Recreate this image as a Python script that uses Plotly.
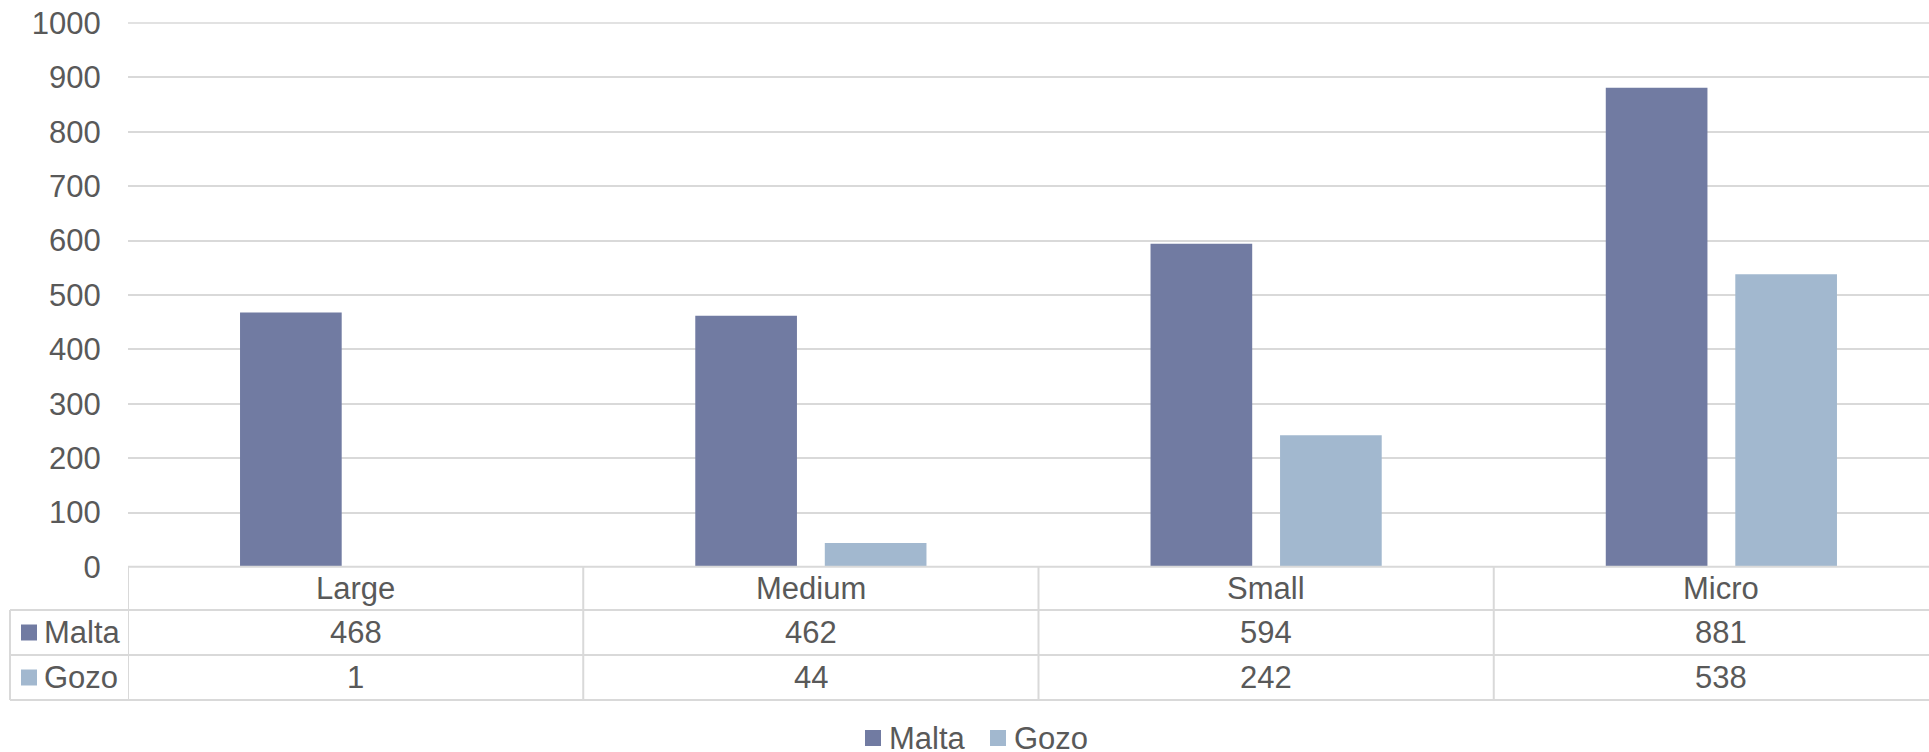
import plotly.graph_objects as go

categories = ["Large", "Medium", "Small", "Micro"]
malta = [468, 462, 594, 881]
gozo = [1, 44, 242, 538]
series_names = ["Malta", "Gozo"]
series_values = [malta, gozo]
y_ticks = list(range(0, 1001, 100))

W, H = 1929, 752
ML, MR, MT, MB = 128, 0, 23, 185
PW = W - ML - MR
PH = H - MT - MB
CAT_W = 455.25  # pixel width of one category


def py(ypix):
    return (H - MB - ypix) / PH


def px(xpix):
    return (xpix - ML) / PW


colors = {"Malta": "#717BA2", "Gozo": "#A2B8CF"}
grid = "#D9D9D9"
text_color = "#595959"
FONT = "Liberation Sans, Arial, sans-serif"
FS = 31

fig = go.Figure()
for name, vals in zip(series_names, series_values):
    fig.add_bar(x=categories, y=vals, name=name, marker_color=colors[name],
                marker_line_width=0, showlegend=False, hoverinfo="x+y+name")

fig.update_layout(
    width=W, height=H,
    margin=dict(l=ML, r=MR, t=MT, b=MB, pad=0, autoexpand=False),
    barmode="group", bargap=0.431, bargroupgap=0.215,
    plot_bgcolor="white", paper_bgcolor="white",
    font=dict(family=FONT, size=FS, color=text_color),
    showlegend=False,
)
fig.update_xaxes(range=[-0.5, -0.5 + PW / CAT_W], showticklabels=False, showgrid=False,
                 zeroline=False, showline=False, fixedrange=True)
fig.update_yaxes(range=[0, 1000], tickvals=y_ticks, showgrid=True, gridcolor=grid, gridwidth=1.5,
                 zeroline=False, showline=False, ticks="outside", ticklen=20,
                 tickcolor="rgba(0,0,0,0)", fixedrange=True)

# top gridline (at range edge, drawn unclipped)
fig.add_shape(type="line", xref="paper", yref="paper", x0=0, x1=1, y0=1, y1=1,
              line=dict(color=grid, width=1.5), layer="below")

LW = 2
row_lines = [566.7, 610, 655, 700]
table_left = 10
for i, yl in enumerate(row_lines):
    x0 = px(ML) if i == 0 else px(table_left)
    fig.add_shape(type="line", xref="paper", yref="paper", x0=x0, x1=1, y0=py(yl), y1=py(yl),
                  line=dict(color=grid, width=LW), layer="above")
fig.add_shape(type="line", xref="paper", yref="paper", x0=px(table_left), x1=px(table_left),
              y0=py(610), y1=py(700), line=dict(color=grid, width=LW))
for k in range(len(categories)):
    xv = k - 0.5
    fig.add_shape(type="line", xref="x", yref="paper", x0=xv, x1=xv, y0=py(566.7), y1=py(700),
                  line=dict(color=grid, width=LW))

row_centers = [588.5, 632.5, 677.5]
for k, cat in enumerate(categories):
    fig.add_annotation(x=k, xref="x", y=py(row_centers[0]), yref="paper", text=cat, showarrow=False,
                       xanchor="center", yanchor="middle", font=dict(size=FS, color=text_color))
    for r, vals in enumerate(series_values):
        fig.add_annotation(x=k, xref="x", y=py(row_centers[r + 1]), yref="paper", text=str(vals[k]),
                           showarrow=False, xanchor="center", yanchor="middle",
                           font=dict(size=FS, color=text_color))

for r, name in enumerate(series_names):
    yc = row_centers[r + 1]
    fig.add_shape(type="rect", xref="paper", yref="paper", x0=px(21), x1=px(37), y0=py(yc - 8), y1=py(yc + 8),
                  fillcolor=colors[name], line=dict(width=0))
    fig.add_annotation(x=px(42), xref="paper", y=py(yc), yref="paper", text=name, showarrow=False,
                       xanchor="left", yanchor="middle", font=dict(size=FS, color=text_color))

leg_y = 738.0
leg_keys = [865, 990]
for name, kx in zip(series_names, leg_keys):
    fig.add_shape(type="rect", xref="paper", yref="paper", x0=px(kx), x1=px(kx + 16), y0=py(leg_y - 8),
                  y1=py(leg_y + 8), fillcolor=colors[name], line=dict(width=0))
    fig.add_annotation(x=px(kx + 23), xref="paper", y=py(leg_y), yref="paper", text=name, showarrow=False,
                       xanchor="left", yanchor="middle", height=26, valign="middle", borderpad=0,
                       font=dict(size=FS, color=text_color))

fig.write_html("out.html", config={"displayModeBar": False},
               post_script="document.body.style.margin='0';document.body.style.overflow='hidden';")
